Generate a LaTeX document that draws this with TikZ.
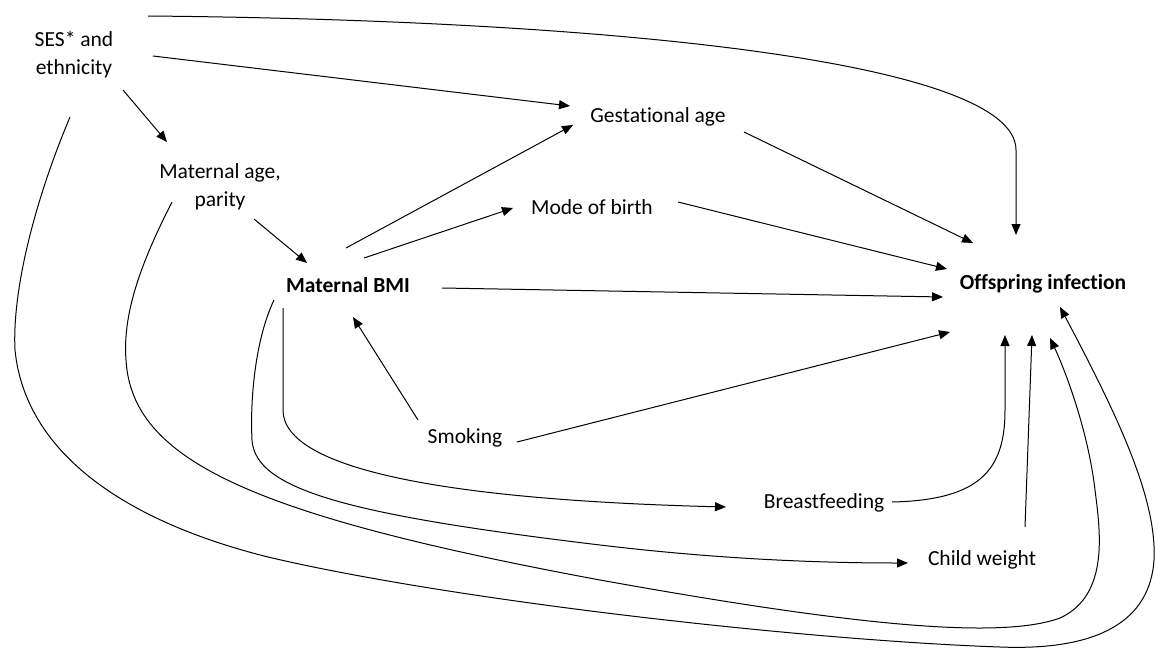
\documentclass[tikz,border=0pt]{standalone}
\usepackage{fontspec}
\setmainfont{Carlito}[Ligatures=NoCommon]
\usetikzlibrary{arrows.meta}
\tikzset{
  lab/.style={font={\fontsize{21.5}{28}\selectfont}, inner sep=0pt, align=center},
  labb/.style={font={\fontsize{21.5}{28}\selectfont\bfseries}, inner sep=0pt, align=center},
  arr/.style={-{Triangle[length=11pt,width=9pt]}, line width=1pt},
}
\begin{document}
\begin{tikzpicture}[x=1pt,y=-1pt]
\path[fill=white,use as bounding box] (0,0) rectangle (1158,650);

\node[lab]  (ses)  at (74,55)   {SES* and\\ethnicity};
\node[lab]  (mage) at (220,187) {Maternal age,\\parity};
\node[lab]  (gest) at (658,117) {Gestational age};
\node[lab]  (mode) at (592,207) {Mode of birth};
\node[labb] (bmi)  at (348,285) {Maternal BMI};
\node[labb] (off)  at (1043,284) {Offspring infection};
\node[lab]  (smok) at (465,438) {Smoking};
\node[lab]  (bf)   at (824,503) {Breastfeeding};
\node[lab]  (cw)   at (982,560) {Child weight};

% straight arrows
\draw[arr] ([shift={(79,1)}]ses.center) -- ([shift={(-88,-11)}]gest.center);
\draw[arr] ([shift={(49,35)}]ses.center) -- ([shift={(-53,-45)}]mage.center);
\draw[arr] ([shift={(34,32)}]mage.center) -- ([shift={(-41,-22)}]bmi.center);
\draw[arr] ([shift={(-2,-37)}]bmi.center) -- ([shift={(-85,8)}]gest.center);
\draw[arr] ([shift={(16,-27)}]bmi.center) -- ([shift={(-79,1)}]mode.center);
\draw[arr] ([shift={(94,3)}]bmi.center) -- ([shift={(-100,13)}]off.center);
\draw[arr] ([shift={(86,15)}]gest.center) -- ([shift={(-70,-41)}]off.center);
\draw[arr] ([shift={(86,-5)}]mode.center) -- ([shift={(-96,-15)}]off.center);
\draw[arr] ([shift={(-47,-18)}]smok.center) -- ([shift={(5,32)}]bmi.center);
\draw[arr] ([shift={(52,4)}]smok.center) -- ([shift={(-93,48)}]off.center);
\draw[arr] ([shift={(43,-33)}]cw.center) -- ([shift={(-11,51)}]off.center);

% SES top curve
\draw[arr] ([shift={(74,-39)}]ses.center) .. controls (600,20) and (1016,60) .. (1016,150)
  -- ([shift={(-27,-49)}]off.center);

% Maternal BMI -> Breastfeeding
\draw[arr] ([shift={(-65,23)}]bmi.center) -- (283,410) .. controls (283,470) and (450,500)
  .. ([shift={(-98,4)}]bf.center);

% Breastfeeding -> Offspring
\draw[arr] ([shift={(68,-1)}]bf.center) .. controls (980,500) and (1005,470) .. (1005,410)
  -- ([shift={(-38,51)}]off.center);

% Maternal BMI -> Child weight
\draw[arr] ([shift={(-74,15)}]bmi.center) .. controls (255,340) and (250,400) .. (252,440)
  .. controls (255,490) and (350,515) .. (600,545)
  .. controls (700,557) and (800,563) .. ([shift={(-74,3)}]cw.center);

% Maternal age -> Offspring
\draw[arr] ([shift={(-48,15)}]mage.center) .. controls (145,255) and (122,310) .. (126,360)
  .. controls (132,460) and (250,515) .. (600,580)
  .. controls (850,625) and (1000,640) .. (1060,618)
  .. controls (1110,595) and (1100,530) .. (1095,490)
  .. controls (1088,430) and (1065,370) .. ([shift={(7,54)}]off.center);

% SES -> Offspring outer curve
\draw[arr] ([shift={(-4,62)}]ses.center) .. controls (35,200) and (12,290) .. (15,350)
  .. controls (25,450) and (120,520) .. (268,557)
  .. controls (450,600) and (800,640) .. (1000,647)
  .. controls (1100,651) and (1150,620) .. (1154,560)
  .. controls (1157,500) and (1120,420) .. ([shift={(17,23)}]off.center);
\end{tikzpicture}
\end{document}
